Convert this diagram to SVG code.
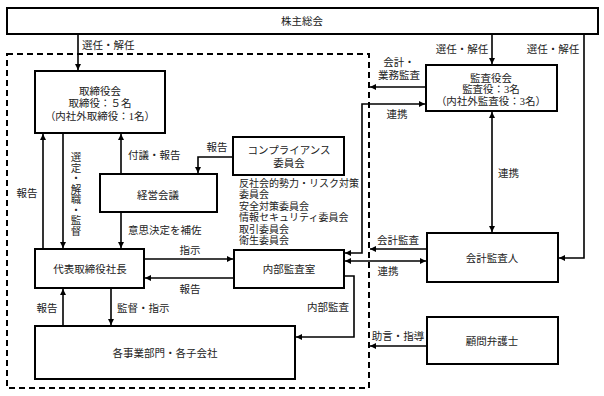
<svg xmlns="http://www.w3.org/2000/svg" width="604" height="396" viewBox="0 0 604 396">
<style>
text{font-family:"Liberation Serif","Noto Sans CJK JP",serif;font-size:10.5px;fill:#222}
.m{text-anchor:middle}
.box{fill:#fff;stroke:#000;stroke-width:2}
.c{fill:none;stroke:#000;stroke-width:1.6}
.e{marker-end:url(#ah)}
.b{marker-start:url(#ah);marker-end:url(#ah)}
.list{font-size:10px}
</style>
<defs>
<marker id="ah" viewBox="0 0 10 10" refX="10" refY="5" markerWidth="6" markerHeight="6" markerUnits="userSpaceOnUse" orient="auto-start-reverse">
<path d="M0,0 L10,5 L0,10 z" fill="#000"/>
</marker>
</defs>
<rect x="7" y="54" width="362" height="334" fill="none" stroke="#000" stroke-width="2" stroke-dasharray="6 4"/>
<g id="connectors">
<path class="c e" d="M78,34 V70"/>
<path class="c e" d="M492,34 V64"/>
<path class="c e" d="M584,34 V258 H559"/>
<path class="c e" d="M43,249 V134"/>
<path class="c e" d="M63,133 V248"/>
<path class="c e" d="M121,174 V134"/>
<path class="c e" d="M121,212 V248"/>
<path class="c e" d="M233,157 H198 V173"/>
<path class="c e" d="M144,259 H233"/>
<path class="c e" d="M234,278 H145"/>
<path class="c e" d="M63,326 V289"/>
<path class="c e" d="M111,288 V325"/>
<path class="c e" d="M344,276 H354 V337 H296"/>
<path class="c e" d="M426,87 H370"/>
<path class="c b" d="M345,253 H362 V104 H425"/>
<path class="c e" d="M427,249 H370"/>
<path class="c b" d="M345,261 H426"/>
<path class="c b" d="M492,112 V232"/>
<path class="c e" d="M427,346 H370"/>
<text x="82" y="49">選任・解任</text>
<text x="462" y="53" class="m">選任・解任</text>
<text x="553" y="53" class="m">選任・解任</text>
<text x="27" y="197" class="m">報告</text>
<text x="75" y="152" style="writing-mode:vertical-rl">選定・解職・監督</text>
<text x="128" y="159">付議・報告</text>
<text x="217" y="151" class="m">報告</text>
<text x="128" y="234">意思決定を補佐</text>
<text x="190" y="254" class="m">指示</text>
<text x="190" y="293" class="m">報告</text>
<text x="47" y="312" class="m">報告</text>
<text x="117" y="312">監督・指示</text>
<text x="328" y="311" class="m">内部監査</text>
<text x="399" y="66" class="m">会計・</text>
<text x="399" y="79" class="m">業務監査</text>
<text x="397" y="118" class="m">連携</text>
<text x="498" y="177">連携</text>
<text x="398" y="244" class="m">会計監査</text>
<text x="388" y="275" class="m">連携</text>
<text x="398" y="340" class="m">助言・指導</text>
</g>
<g id="shareholders">
<rect class="box" x="7" y="8" width="591" height="26"/>
<text x="302" y="25" class="m">株主総会</text>
</g>
<g id="board">
<rect class="box" x="35" y="71" width="130" height="62"/>
<text x="100" y="95" class="m">取締役会</text>
<text x="100" y="107" class="m">取締役：５名</text>
<text x="100" y="120" class="m">（内社外取締役：1名）</text>
</g>
<g id="management">
<rect class="box" x="100" y="174" width="117" height="38"/>
<text x="158" y="199" class="m">経営会議</text>
</g>
<g id="compliance">
<rect class="box" x="233" y="137" width="111" height="38"/>
<text x="289" y="154" class="m">コンプライアンス</text>
<text x="289" y="167" class="m">委員会</text>
</g>
<g id="committees">
<text class="list" x="239" y="187">反社会的勢力・リスク対策</text>
<text class="list" x="239" y="198">委員会</text>
<text class="list" x="239" y="209.5">安全対策委員会</text>
<text class="list" x="239" y="221">情報セキュリティ委員会</text>
<text class="list" x="239" y="232.5">取引委員会</text>
<text class="list" x="239" y="244">衛生委員会</text>
</g>
<g id="president">
<rect class="box" x="35" y="249" width="109" height="39"/>
<text x="90" y="273" class="m">代表取締役社長</text>
</g>
<g id="internal-audit">
<rect class="box" x="234" y="250" width="110" height="38"/>
<text x="289" y="273" class="m">内部監査室</text>
</g>
<g id="departments">
<rect class="box" x="35" y="326" width="260" height="53"/>
<text x="165" y="357" class="m">各事業部門・各子会社</text>
</g>
<g id="audit-board">
<rect class="box" x="426" y="65" width="131" height="46"/>
<text x="491" y="82" class="m">監査役会</text>
<text x="491" y="93" class="m">監査役：3名</text>
<text x="491" y="105" class="m">（内社外監査役：3名）</text>
</g>
<g id="accounting-auditor">
<rect class="box" x="427" y="233" width="131" height="49"/>
<text x="492" y="262" class="m">会計監査人</text>
</g>
<g id="lawyer">
<rect class="box" x="427" y="317" width="131" height="47"/>
<text x="492" y="345" class="m">顧問弁護士</text>
</g>
</svg>
